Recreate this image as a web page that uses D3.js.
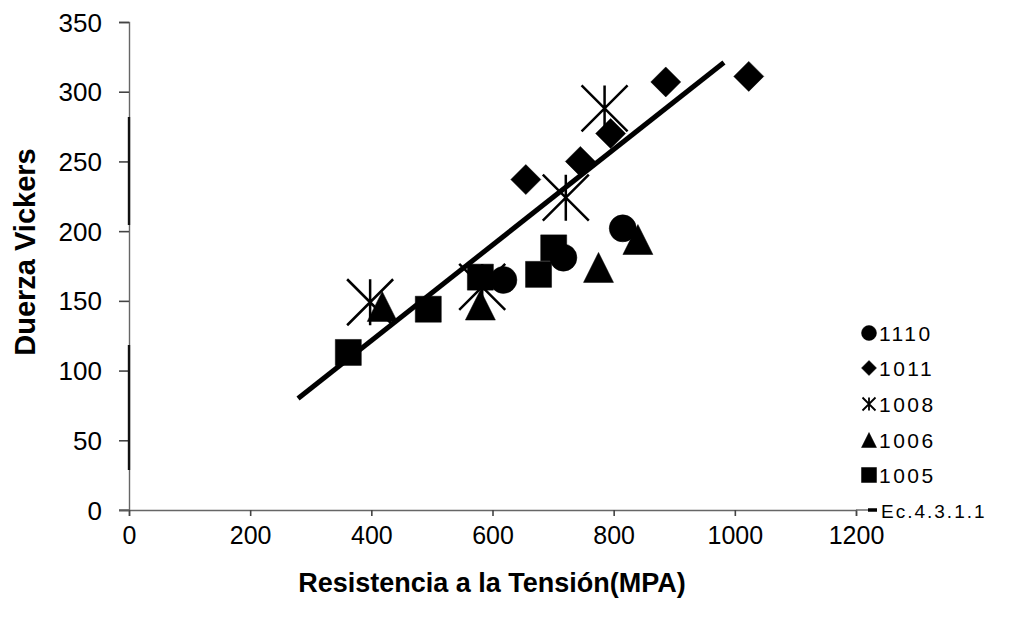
<!DOCTYPE html>
<html>
<head>
<meta charset="utf-8">
<script src="https://cdn.jsdelivr.net/npm/d3@7"></script>
<style>
  html, body { margin: 0; padding: 0; background: #fff; }
  svg { display: block; }
  text { font-family: "Liberation Sans", Arial, sans-serif; fill: #000; }
</style>
</head>
<body>
<svg id="chart" width="1013" height="619"></svg>
<script>
// Vickers hardness vs tensile strength, by steel grade
const xTicks = [0, 200, 400, 600, 800, 1000, 1200];
const yTicks = [0, 50, 100, 150, 200, 250, 300, 350];

const s1110X = [618, 717, 815];
const s1110Y = [165, 181, 202];
const s1011X = [655, 745, 795, 886, 1023];
const s1011Y = [237, 250, 270, 307, 311];
const s1008X = [398, 583, 721, 785];
const s1008Y = [149, 160, 224, 288];
const s1006X = [418, 580, 775, 840];
const s1006Y = [146, 147, 174, 194];
const s1005X = [362, 494, 580, 676, 701];
const s1005Y = [113, 144, 167, 169, 188];

// Fitted relation Ec.4.3.1.1 (end points)
const fitX = [279, 982];
const fitY = [80, 321];

const seriesNames = ["1110", "1011", "1008", "1006", "1005"];
const seriesShapes = ["circle", "diamond", "asterisk", "triangle", "square"];
const seriesX = [s1110X, s1011X, s1008X, s1006X, s1005X];
const seriesY = [s1110Y, s1011Y, s1008Y, s1006Y, s1005Y];
const fitName = "Ec.4.3.1.1";

const svg = d3.select("#chart");
const x = d3.scaleLinear().domain([0, 1200]).range([129, 856]);
const y = d3.scaleLinear().domain([0, 350]).range([510, 22]);

// axes
const yAxis = svg.append("g")
  .attr("transform", `translate(${x(0)},0)`)
  .call(d3.axisLeft(y).tickValues(yTicks).tickSize(10).tickPadding(17).tickFormat(d3.format("d")));
const xAxis = svg.append("g")
  .attr("transform", `translate(0,${y(0)})`)
  .call(d3.axisBottom(x).tickValues(xTicks).tickSize(6).tickPadding(10).tickFormat(d3.format("d")));
[yAxis, xAxis].forEach(g => {
  g.select(".domain").attr("stroke", "#666").attr("stroke-width", 1.4);
  g.selectAll(".tick line").attr("stroke", "#444").attr("stroke-width", 1.6);
  g.selectAll(".tick text").attr("fill", "#000")
    .style("font-family", "'Liberation Sans', Arial, sans-serif");
});
yAxis.selectAll(".tick text").attr("font-size", 26).attr("dy", "0.35em");
xAxis.selectAll(".tick text").attr("font-size", 25);

// darker stretches of the vertical axis line
[[117, 225], [345, 470]].forEach(([a, b]) => {
  svg.append("line").attr("x1", x(0)).attr("x2", x(0)).attr("y1", a).attr("y2", b)
    .attr("stroke", "#111").attr("stroke-width", 2.4);
});
// x axis line runs on to the legend key
svg.append("line").attr("x1", x(0) - 10).attr("x2", x(0)).attr("y1", y(0)).attr("y2", y(0))
  .attr("stroke", "#666").attr("stroke-width", 1.4);
svg.append("line").attr("x1", x(1200)).attr("x2", 868).attr("y1", y(0)).attr("y2", y(0))
  .attr("stroke", "#666").attr("stroke-width", 1.4);

// marker shapes
function shapePath(shape, s) {
  const h = s / 2;
  switch (shape) {
    case "circle": return d3.symbol(d3.symbolCircle, Math.PI * h * h)();
    case "square": return `M${-h},${-h}H${h}V${h}H${-h}Z`;
    case "diamond": return `M0,${-h}L${h},0L0,${h}L${-h},0Z`;
    case "triangle": return `M0,${-h}L${h},${h}L${-h},${h}Z`;
    case "asterisk": return `M${-h},${-h}L${h},${h}M${h},${-h}L${-h},${h}M0,${-h}L0,${h}`;
  }
}
const markerSize = { circle: 27, square: 26, diamond: 30, triangle: 30, asterisk: 46 };

seriesNames.forEach((name, i) => {
  const shape = seriesShapes[i];
  const pts = seriesX[i].map((v, j) => [v, seriesY[i][j]]);
  svg.append("g").selectAll("path").data(pts).join("path")
    .attr("transform", d => `translate(${x(d[0])},${y(d[1])})`)
    .attr("d", shapePath(shape, markerSize[shape]))
    .attr("fill", shape === "asterisk" ? "none" : "#000")
    .attr("stroke", "#000")
    .attr("stroke-width", shape === "asterisk" ? 2.5 : 0.5);
});

// fitted line
svg.append("path")
  .datum(fitX.map((v, j) => [v, fitY[j]]))
  .attr("d", d3.line().x(d => x(d[0])).y(d => y(d[1])))
  .attr("stroke", "#000").attr("stroke-width", 5).attr("fill", "none");

// axis titles
svg.append("text")
  .attr("transform", `translate(35,252) rotate(-90)`)
  .attr("text-anchor", "middle").attr("font-size", 29).attr("font-weight", "bold")
  .text("Duerza Vickers");
svg.append("text")
  .attr("x", 492).attr("y", 592)
  .attr("text-anchor", "middle").attr("font-size", 27).attr("font-weight", "bold")
  .text("Resistencia a la Tensión(MPA)");

// legend
const legendY = [333, 368, 404, 440, 475];
const lg = svg.append("g");
seriesNames.forEach((name, i) => {
  const shape = seriesShapes[i];
  const small = shape === "asterisk" ? 13 : 15;
  lg.append("path")
    .attr("transform", `translate(869,${legendY[i]})`)
    .attr("d", shapePath(shape, small))
    .attr("fill", shape === "asterisk" ? "none" : "#000")
    .attr("stroke", "#000").attr("stroke-width", shape === "asterisk" ? 1.8 : 0.5);
  lg.append("text").attr("x", 879).attr("y", legendY[i] + 8)
    .attr("font-size", 21).attr("letter-spacing", 2.5).text(name);
});
lg.append("line").attr("x1", 868).attr("x2", 877).attr("y1", 510).attr("y2", 510)
  .attr("stroke", "#000").attr("stroke-width", 3.5);
lg.append("text").attr("x", 881).attr("y", 518).attr("font-size", 19)
  .attr("letter-spacing", 2).text(fitName);
</script>
</body>
</html>
